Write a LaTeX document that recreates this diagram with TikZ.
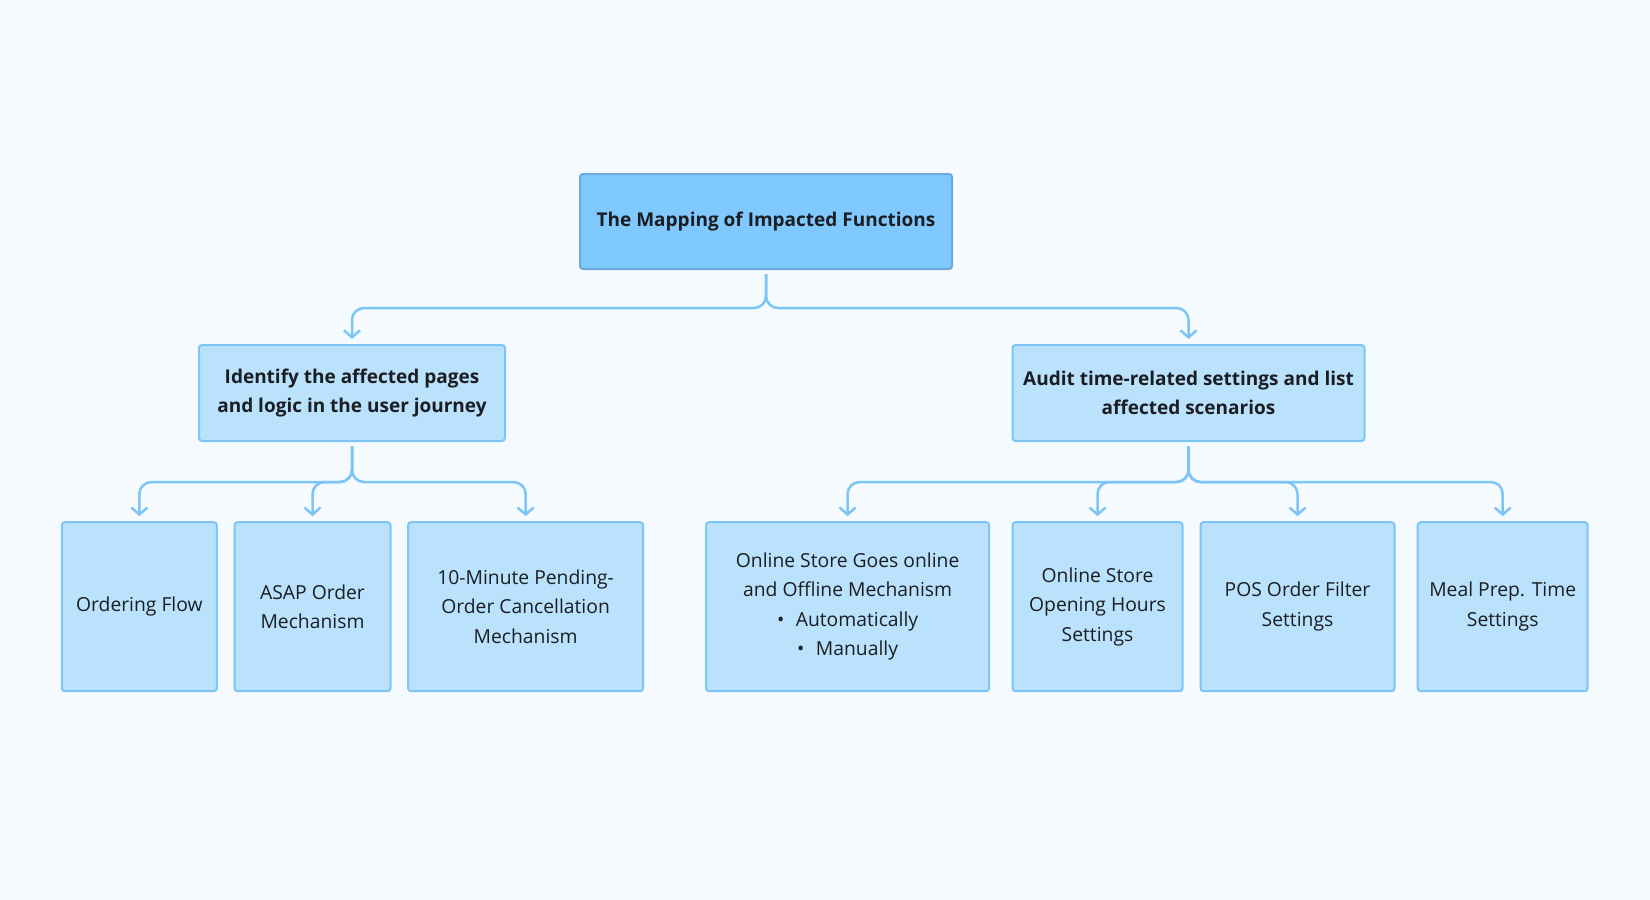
\documentclass[tikz,border=0pt]{standalone}
\usepackage{fontspec}
\setmainfont{Open Sans}
\usepackage{tikz}
\usetikzlibrary{positioning, arrows.meta}
\definecolor{bgcol}{HTML}{F5FAFE}
\definecolor{rootfill}{HTML}{80C9FE}
\definecolor{rootline}{HTML}{6AA8DD}
\definecolor{boxfill}{HTML}{BAE2FC}
\definecolor{boxline}{HTML}{7DC5F5}
\definecolor{linecol}{HTML}{7DC5F5}
\definecolor{textcol}{HTML}{1A1D21}

\begin{document}
\begin{tikzpicture}[x=1pt, y=-1pt,
  box/.style={draw=boxline, fill=boxfill, rounded corners=3pt, line width=2pt, inner sep=0pt,
    align=center, text=textcol, font=\fontsize{19.3}{29.5}\selectfont},
  root node/.style={box, fill=rootfill, draw=rootline, font=\fontsize{19}{29.5}\selectfont\bfseries,
    minimum width=372pt, minimum height=95pt},
  mid node/.style={box, font=\fontsize{19}{29.5}\selectfont\bfseries, minimum height=96pt},
  leaf node/.style={box, minimum height=169pt},
  link/.style={draw=linecol, line width=2.5pt, rounded corners=12pt, shorten <=4pt, shorten >=5pt,
    -{Straight Barb[length=7pt, width=16pt, line width=2.5pt]}}]

\fill[bgcol] (0,0) rectangle (1650,900);
\useasboundingbox (0,0) rectangle (1650,900);

\node[root node] (root) at (766,221.5) {The Mapping of Impacted Functions};

\node[mid node, minimum width=306pt] (ident) at (352,393) {Identify the affected pages\\and logic in the user journey};
\node[mid node, minimum width=352pt] (audit) at (1188.5,393) {Audit time-related settings and list\\affected scenarios};

\node[leaf node, minimum width=155pt] (flow) at (139.4,606.7) {Ordering Flow};
\node[leaf node, minimum width=156pt] (asap) at (312.5,606.7) {ASAP Order\\Mechanism};
\node[leaf node, minimum width=235pt] (cancel) at (525.6,606.7) {10-Minute Pending-\\Order Cancellation\\Mechanism};
\node[leaf node, minimum width=283pt] (online) at (847.6,606.7) {Online Store Goes online\\and Offline Mechanism\\\textbullet\hspace{0.6em}Automatically\\\textbullet\hspace{0.6em}Manually};
\node[leaf node, minimum width=170pt] (hours) at (1097.5,606.7) {Online Store\\Opening Hours\\Settings};
\node[leaf node, minimum width=194pt] (pos) at (1297.5,606.7) {POS Order Filter\\Settings};
\node[leaf node, minimum width=170pt] (prep) at (1502.7,606.7) {Meal Prep. Time\\Settings};

\draw[link] (root.south) -- ++(0,38) -| (ident.north);
\draw[link] (root.south) -- ++(0,38) -| (audit.north);

\draw[link] (ident.south) -- ++(0,40) -| (flow.north);
\draw[link] (ident.south) -- ++(0,40) -| (asap.north);
\draw[link] (ident.south) -- ++(0,40) -| (cancel.north);

\draw[link] (audit.south) -- ++(0,40) -| (online.north);
\draw[link] (audit.south) -- ++(0,40) -| (hours.north);
\draw[link] (audit.south) -- ++(0,40) -| (pos.north);
\draw[link] (audit.south) -- ++(0,40) -| (prep.north);

\end{tikzpicture}
\end{document}
